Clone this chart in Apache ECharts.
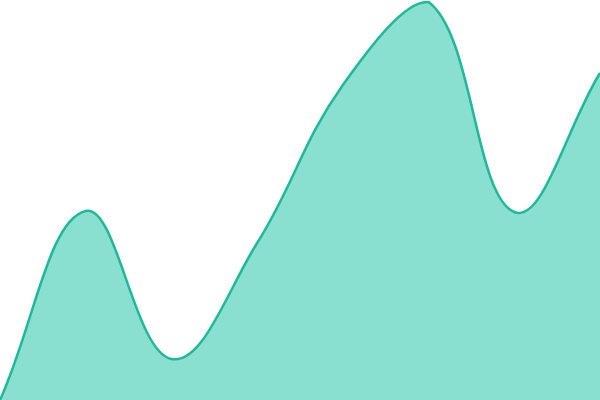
<!DOCTYPE html>
<html><head><meta charset="utf-8">
<script src="https://cdn.jsdelivr.net/npm/echarts@6/dist/echarts.min.js"></script>
<style>html,body{margin:0;padding:0;background:#fff}#c{width:600px;height:400px}</style>
</head><body><div id="c"></div>
<script>
var categories = ['A','B','C','D','E','F','G','H'];
var values = [0, 189, 41, 157, 315, 398, 188, 327];
var tension = 0.4;
var yMin = 0, yMax = 400;

function clamp(v, a, b) { return Math.max(Math.min(a, b), Math.min(Math.max(a, b), v)); }

function splinePath(pts, box) {
  var d = 'M' + pts[0][0] + ',' + pts[0][1];
  var cps = pts.map(function (p, i) {
    var prev = pts[Math.max(0, i - 1)], next = pts[Math.min(pts.length - 1, i + 1)];
    var d01 = Math.hypot(p[0] - prev[0], p[1] - prev[1]);
    var d12 = Math.hypot(next[0] - p[0], next[1] - p[1]);
    var s01 = d01 / (d01 + d12 || 1), s12 = d12 / (d01 + d12 || 1);
    var fa = tension * s01, fb = tension * s12;
    var cp1 = [p[0] - fa * (next[0] - prev[0]), p[1] - fa * (next[1] - prev[1])];
    var cp2 = [p[0] + fb * (next[0] - prev[0]), p[1] + fb * (next[1] - prev[1])];
    cp1 = [clamp(cp1[0], box.l, box.r), clamp(cp1[1], box.t, box.b)];
    cp2 = [clamp(cp2[0], box.l, box.r), clamp(cp2[1], box.t, box.b)];
    return {prev: cp1, next: cp2};
  });
  for (var i = 1; i < pts.length; i++) {
    var c1 = cps[i - 1].next, c2 = cps[i].prev;
    d += 'C' + c1[0] + ',' + c1[1] + ' ' + c2[0] + ',' + c2[1] + ' ' + pts[i][0] + ',' + pts[i][1];
  }
  return d;
}

var chart = echarts.init(document.getElementById('c'));
chart.setOption({
  animation: false,
  grid: {left: 0, right: 0, top: 0, bottom: 0},
  xAxis: {type: 'category', data: categories, boundaryGap: false, show: false},
  yAxis: {type: 'value', min: yMin, max: yMax, show: false},
  series: [{
    type: 'custom',
    data: values.map(function (v, i) { return [i, v]; }),
    encode: {x: 0, y: 1},
    clip: false,
    renderItem: function (params, api) {
      if (params.dataIndex !== 0) return null;
      var pts = values.map(function (v, i) { return api.coord([i, v]); });
      var tl = api.coord([0, yMax]), br = api.coord([values.length - 1, yMin]);
      var box = {l: tl[0], t: tl[1], r: br[0], b: br[1]};
      var line = splinePath(pts, box);
      var base0 = api.coord([0, yMin]), baseN = api.coord([values.length - 1, yMin]);
      var area = line + 'L' + baseN[0] + ',' + baseN[1] + 'L' + base0[0] + ',' + base0[1] + 'Z';
      return {
        type: 'group',
        children: [
          {type: 'path', shape: {pathData: area}, style: {fill: '#8ae0d0', stroke: null}},
          {type: 'path', shape: {pathData: line}, style: {fill: null, stroke: '#20b998', lineWidth: 2.5}}
        ]
      };
    }
  }]
});
</script></body></html>
